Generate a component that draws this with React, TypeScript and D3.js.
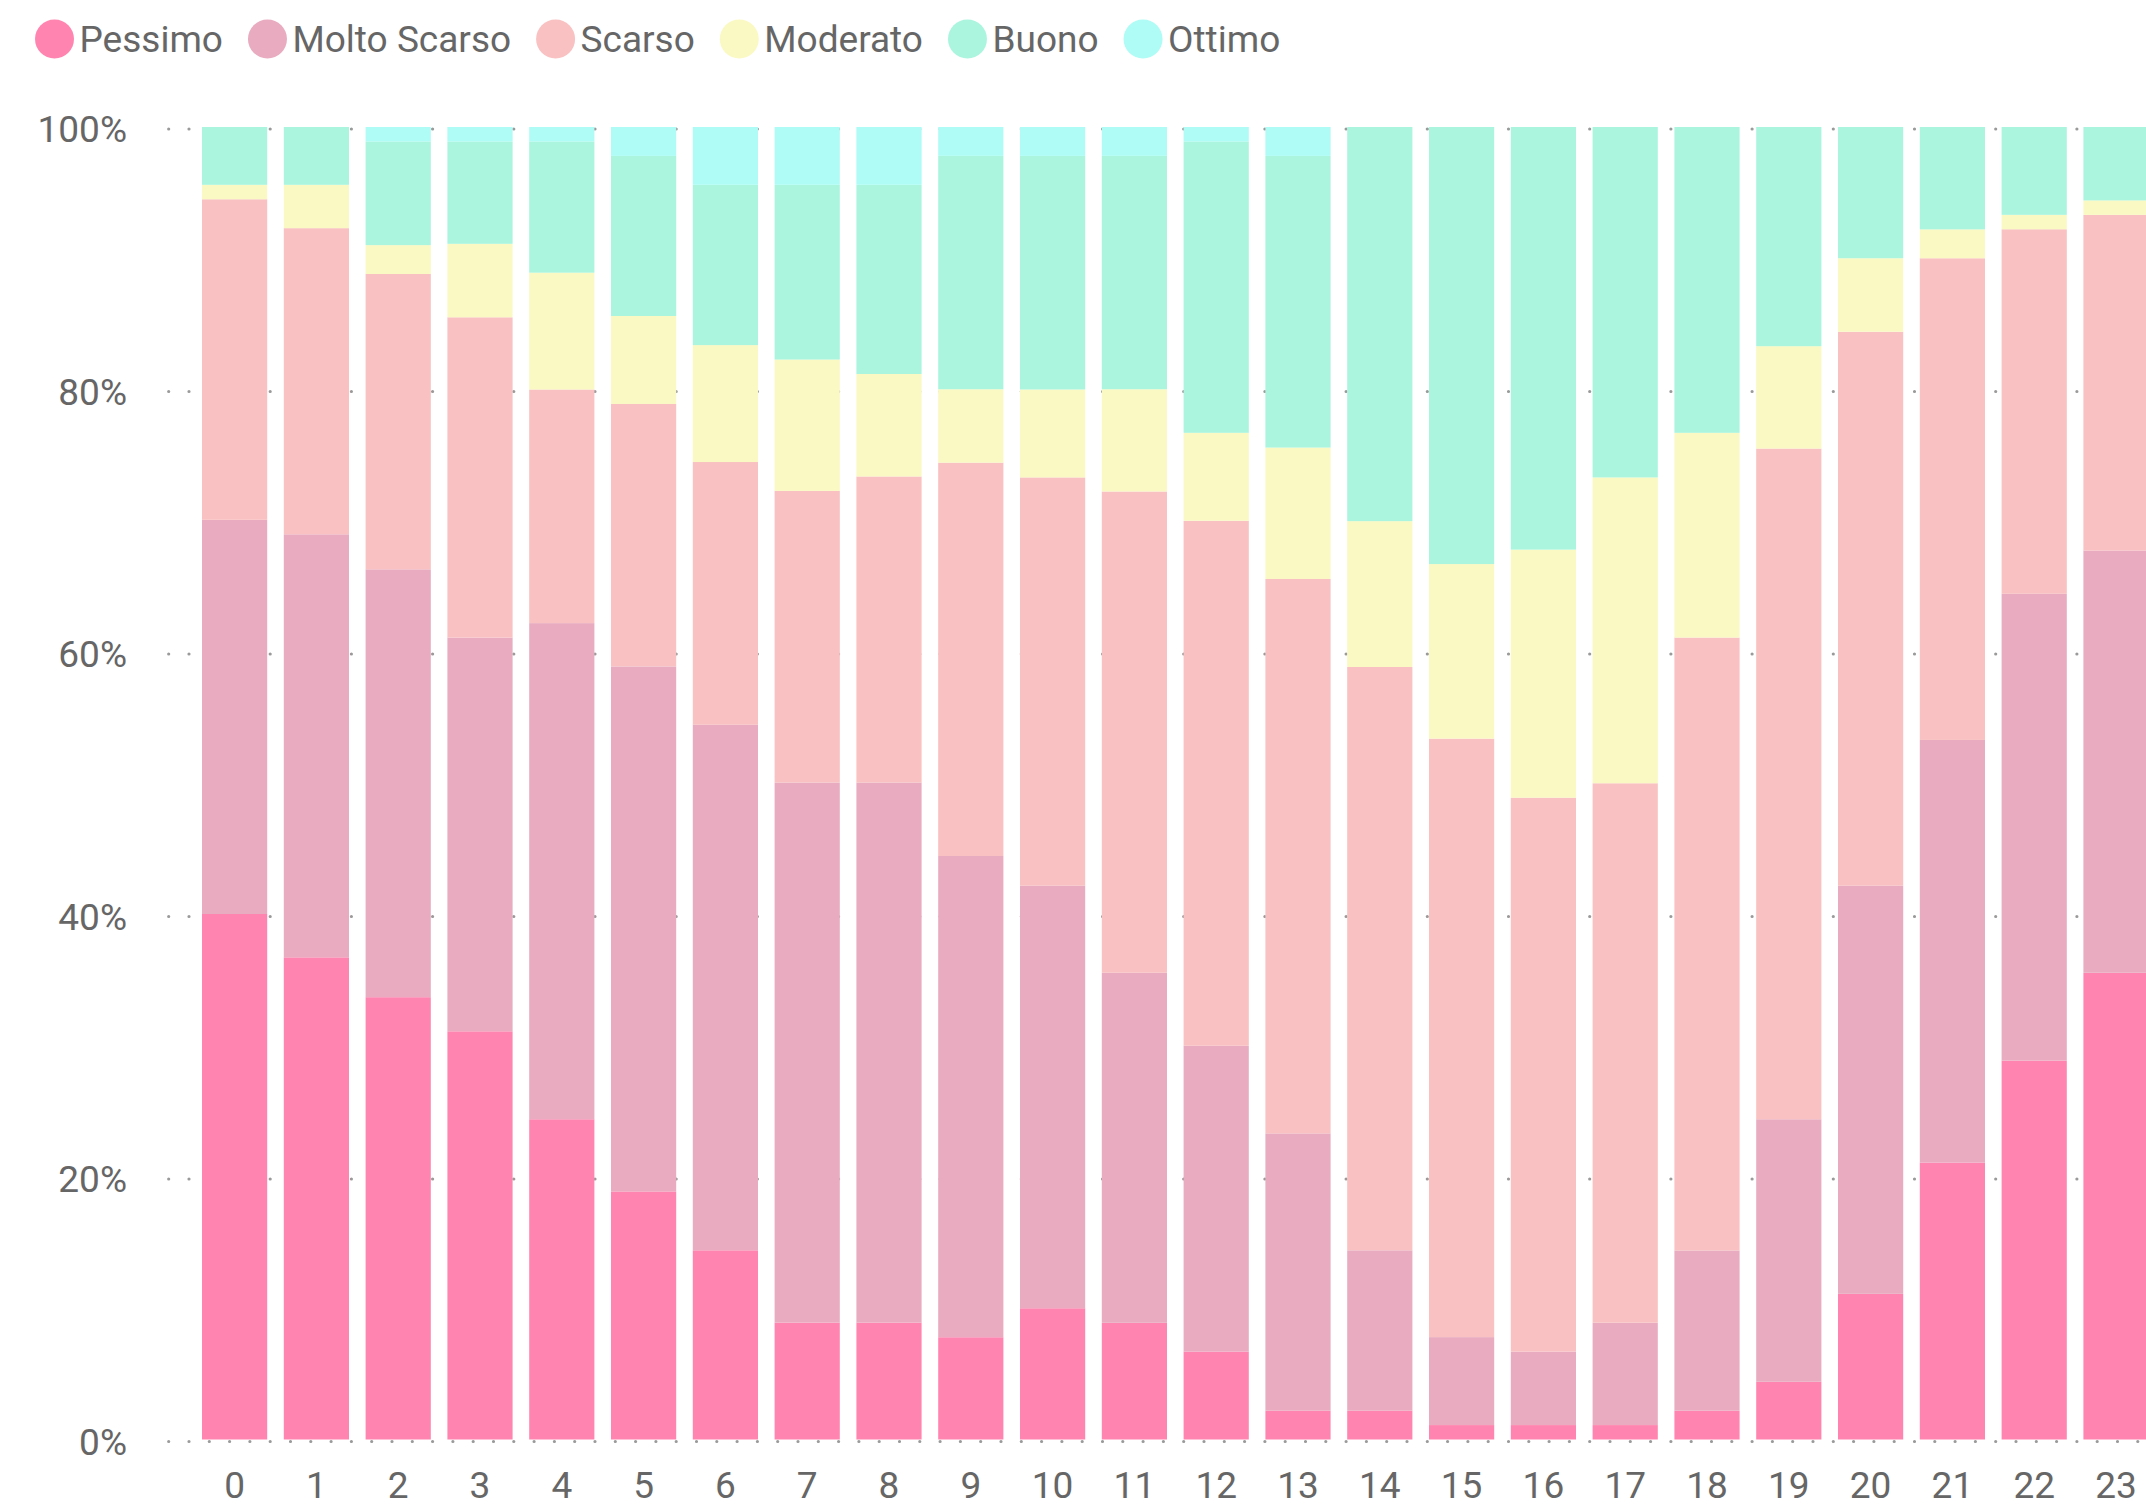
import React, { useEffect } from 'react';
import * as d3 from 'd3';

// Hours of the day (categories)
const hours = ['0','1','2','3','4','5','6','7','8','9','10','11','12','13','14','15','16','17','18','19','20','21','22','23'];

// Share of each class per hour (%)
const pessimo     = [40.0, 36.7, 33.7, 31.1, 24.4, 18.9, 14.4,  8.9,  8.9,  7.8, 10.0,  8.9,  6.7,  2.2,  2.2,  1.1,  1.1,  1.1,  2.2,  4.4, 11.1, 21.1, 28.9, 35.6];
const moltoScarso = [30.0, 32.2, 32.6, 30.0, 37.8, 40.0, 40.0, 41.1, 41.1, 36.7, 32.2, 26.7, 23.3, 21.1, 12.2,  6.7,  5.6,  7.8, 12.2, 20.0, 31.1, 32.2, 35.6, 32.2];
const scarso      = [24.4, 23.3, 22.5, 24.4, 17.8, 20.0, 20.0, 22.2, 23.3, 30.0, 31.1, 36.7, 40.0, 42.2, 44.4, 45.6, 42.2, 41.1, 46.7, 51.1, 42.2, 36.7, 27.8, 25.6];
const moderato    = [ 1.1,  3.3,  2.2,  5.6,  8.9,  6.7,  8.9, 10.0,  7.8,  5.6,  6.7,  7.8,  6.7, 10.0, 11.1, 13.3, 18.9, 23.3, 15.6,  7.8,  5.6,  2.2,  1.1,  1.1];
const buono       = [ 4.4,  4.4,  7.9,  7.8, 10.0, 12.2, 12.2, 13.3, 14.4, 17.8, 17.8, 17.8, 22.2, 22.2, 30.0, 33.3, 32.2, 26.7, 23.3, 16.7, 10.0,  7.8,  6.7,  5.6];
const ottimo      = [ 0.0,  0.0,  1.1,  1.1,  1.1,  2.2,  4.4,  4.4,  4.4,  2.2,  2.2,  2.2,  1.1,  2.2,  0.0,  0.0,  0.0,  0.0,  0.0,  0.0,  0.0,  0.0,  0.0,  0.0];

const seriesNames = ['Pessimo', 'Molto Scarso', 'Scarso', 'Moderato', 'Buono', 'Ottimo'];
const seriesValues = [pessimo, moltoScarso, scarso, moderato, buono, ottimo];
const seriesColors = ['#FF85B0', '#E8ABC0', '#F9C1C1', '#FAF9C3', '#ABF5DF', '#AEFCF5'];

const yTicks = [0, 0.2, 0.4, 0.6, 0.8, 1];

const FONT = 'Roboto, "DejaVu Sans", sans-serif';
const FONT_SIZE = 37;
const TEXT_COLOR = '#666666';

function measure(text: string): number {
  const c = document.createElement('canvas');
  const ctx = c.getContext('2d');
  if (!ctx) return text.length * FONT_SIZE * 0.5;
  ctx.font = `${FONT_SIZE}px Roboto`;
  return ctx.measureText(text).width;
}

export default function App() {
  useEffect(() => {
    document.body.style.margin = '0';
    document.body.style.overflow = 'hidden';
  }, []);

  const W = 2146;
  const H = 1506;

  const rows = hours.map((h, i) => {
    const r: Record<string, any> = { hour: h };
    seriesNames.forEach((s, k) => { r[s] = seriesValues[k][i]; });
    return r;
  });

  const layers = d3.stack<any>().keys(seriesNames).offset(d3.stackOffsetExpand)(rows);

  const x = d3.scaleBand<string>().domain(hours).range([202, 2148.6]).paddingInner(0.203).paddingOuter(0);
  const y = d3.scaleLinear().domain([0, 1]).range([1439.5, 127]);
  const fmt = d3.format('.0%');

  // legend layout
  let cursor = 35;
  const R = 19.5;
  const legend = seriesNames.map((name, i) => {
    const cx = cursor + R;
    const tx = cx + R + 5.5;
    const w = measure(name);
    cursor = tx + w + 25;
    return { name, color: seriesColors[i], cx, tx };
  });

  return (
    <svg width={W} height={H} style={{ position: 'absolute', left: 0, top: 0, display: 'block', background: '#fff' }}
      fontFamily={FONT}>
      {/* legend */}
      <g>
        {legend.map(l => (
          <g key={l.name}>
            <circle cx={l.cx} cy={39} r={R} fill={l.color} />
            <text x={l.tx} y={52} fontSize={FONT_SIZE} fill={TEXT_COLOR}>{l.name}</text>
          </g>
        ))}
      </g>

      {/* gridlines */}
      <g>
        {yTicks.map(t => (
          <line key={t} x1={168.7} x2={W} y1={y(t) + 2} y2={y(t) + 2}
            stroke="#9a9a9a" strokeWidth={3.2} strokeLinecap="round" strokeDasharray="0 20.3" />
        ))}
      </g>

      {/* bars */}
      <g>
        {layers.map((layer, k) => (
          <g key={layer.key} fill={seriesColors[k]}>
            {layer.map((d, i) => {
              const h = y(d[0]) - y(d[1]);
              if (h <= 0) return null;
              return (
                <rect key={i} x={x(hours[i])} y={y(d[1])} width={x.bandwidth()} height={h} />
              );
            })}
          </g>
        ))}
      </g>

      {/* y axis labels */}
      <g>
        {yTicks.map(t => (
          <text key={t} x={127} y={y(t) + 2 + 13} textAnchor="end" fontSize={FONT_SIZE} fill={TEXT_COLOR}>{fmt(t)}</text>
        ))}
      </g>

      {/* x axis labels */}
      <g>
        {hours.map(h => (
          <text key={h} x={(x(h) as number) + x.bandwidth() / 2} y={1498} textAnchor="middle" fontSize={FONT_SIZE} fill={TEXT_COLOR}>{h}</text>
        ))}
      </g>
    </svg>
  );
}
